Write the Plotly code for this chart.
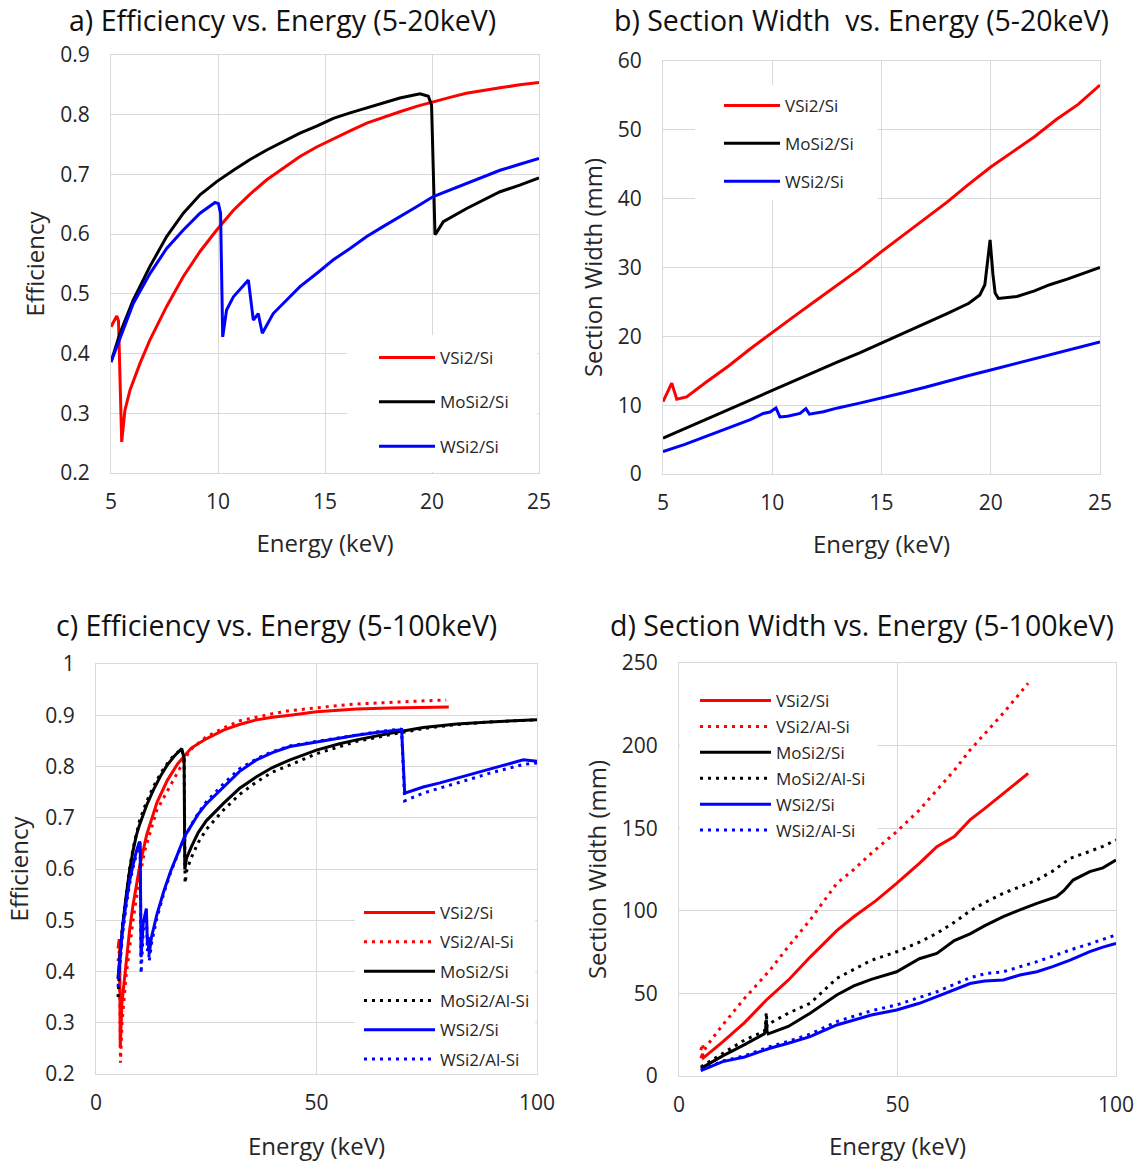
import plotly.graph_objects as go

# ---------------- a) Efficiency vs. Energy (5-25 keV) ----------------
a_vsi_E = [5.0, 5.27, 5.35, 5.5, 5.65, 5.89, 6.36, 6.82, 7.6, 8.38, 9.16, 9.94, 10.72, 11.5, 12.28,
           13.05, 13.83, 14.61, 15.39, 16.17, 16.95, 17.73, 18.5, 19.28, 20.06, 20.84, 21.6, 22.4,
           23.18, 24.1, 25.0]
a_vsi_eff = [0.445, 0.463, 0.455, 0.252, 0.305, 0.339, 0.384, 0.423, 0.479, 0.529, 0.571, 0.607,
             0.640, 0.667, 0.691, 0.711, 0.730, 0.746, 0.760, 0.773, 0.786, 0.796, 0.805, 0.814,
             0.822, 0.829, 0.836, 0.841, 0.845, 0.850, 0.854]

a_mosi_E = [5.0, 5.42, 6.04, 6.82, 7.6, 8.38, 9.16, 9.94, 10.72, 11.5, 12.28, 13.05, 13.83, 14.61,
            15.39, 16.17, 16.95, 17.73, 18.5, 19.44, 19.83, 19.98, 20.14, 20.22, 20.53, 21.62, 22.4,
            23.18, 24.1, 25.0]
a_mosi_eff = [0.386, 0.434, 0.490, 0.546, 0.596, 0.635, 0.666, 0.688, 0.707, 0.725, 0.741, 0.755,
              0.769, 0.781, 0.794, 0.803, 0.811, 0.820, 0.828, 0.835, 0.831, 0.816, 0.599, 0.603,
              0.621, 0.643, 0.657, 0.671, 0.682, 0.694]

a_wsi_E = [5.0, 6.04, 6.82, 7.6, 8.38, 9.16, 9.86, 10.02, 10.12, 10.22, 10.4, 10.72, 11.42, 11.65,
           11.88, 12.07, 12.58, 13.21, 13.83, 14.61, 15.39, 16.17, 16.95, 17.73, 18.5, 19.28, 20.06,
           20.84, 21.6, 22.4, 23.18, 24.1, 25.0]
a_wsi_eff = [0.386, 0.484, 0.534, 0.576, 0.607, 0.635, 0.653, 0.651, 0.635, 0.428, 0.473, 0.495,
             0.523, 0.456, 0.467, 0.434, 0.467, 0.490, 0.512, 0.534, 0.557, 0.576, 0.596, 0.613,
             0.629, 0.646, 0.663, 0.674, 0.685, 0.697, 0.707, 0.717, 0.727]

# ---------------- b) Section width vs. Energy (5-25 keV) ----------------
b_vsi_E = [5.0, 5.4, 5.63, 6.08, 7, 8, 9, 10, 11, 12, 13, 14, 15, 16, 17, 18, 19, 20, 21, 22, 23, 24, 25]
b_vsi_w = [10.5, 13.2, 10.85, 11.2, 13.4, 15.7, 18.2, 20.6, 22.9, 25.2, 27.5, 29.8, 32.3, 34.7, 37.1,
           39.5, 42.1, 44.6, 46.8, 49.0, 51.5, 53.7, 56.5]

b_mosi_E = [5.0, 6, 7, 8, 9, 10, 11, 12, 13, 14, 15, 16, 17, 18, 19, 19.5, 19.73, 19.85, 19.97, 20.1,
            20.2, 20.35, 21.2, 22, 22.7, 23.5, 24.3, 25]
b_mosi_w = [5.2, 6.6, 8.0, 9.4, 10.8, 12.2, 13.6, 14.9, 16.3, 17.6, 19.0, 20.4, 21.9, 23.3, 24.8,
            26.0, 27.5, 30.5, 34.0, 29.0, 26.3, 25.5, 25.8, 26.6, 27.5, 28.3, 29.2, 30.0]

b_wsi_E = [5.0, 6, 7, 8, 9, 9.59, 9.9, 10.17, 10.35, 10.7, 11.27, 11.54, 11.7, 12.34, 13, 14, 15, 16,
           17, 18, 19, 20, 21, 22, 23, 24, 25]
b_wsi_w = [3.24, 4.3, 5.5, 6.7, 7.9, 8.8, 9.0, 9.6, 8.3, 8.4, 8.8, 9.5, 8.7, 9.05, 9.6, 10.3, 11.0,
           11.8, 12.6, 13.5, 14.3, 15.1, 15.9, 16.7, 17.5, 18.4, 19.2]

# ---------------- c) Efficiency vs. Energy (5-100 keV) ----------------
c_vsi_E = [5.0, 5.27, 5.35, 5.5, 5.89, 6.82, 7.6, 8.38, 9.94, 11.5, 13.83, 16.17, 18.5, 21.6, 25,
           28.9, 32.5, 36.4, 40, 44, 50, 55, 59.1, 66.7, 73, 80]
c_vsi_eff = [0.445, 0.463, 0.455, 0.252, 0.339, 0.423, 0.479, 0.529, 0.607, 0.667, 0.730, 0.773,
             0.805, 0.836, 0.854, 0.871, 0.882, 0.891, 0.896, 0.900, 0.907, 0.910, 0.912, 0.914,
             0.915, 0.916]

c_vsial_E = [5.0, 5.27, 5.35, 5.55, 5.9, 6.8, 7.6, 8.4, 9.9, 11.1, 13.8, 17.1, 21.3, 25, 28.9, 32.5,
             36.4, 40, 44, 50, 55, 59.1, 66.7, 73, 79.4]
c_vsial_eff = [0.42, 0.44, 0.43, 0.222, 0.30, 0.39, 0.445, 0.50, 0.585, 0.637, 0.715, 0.767, 0.832,
               0.858, 0.875, 0.889, 0.897, 0.903, 0.909, 0.915, 0.919, 0.922, 0.925, 0.928, 0.930]

c_mosi_E = [5.0, 5.42, 6.04, 6.82, 7.6, 8.38, 9.16, 9.94, 11.5, 13.05, 14.61, 16.17, 17.73, 19.44,
            19.98, 20.14, 20.53, 21.62, 23.18, 25, 28.9, 32.5, 36.4, 40, 44, 50, 55, 59.1, 66.7,
            74.2, 81.8, 89.3, 100]
c_mosi_eff = [0.386, 0.434, 0.490, 0.546, 0.596, 0.635, 0.666, 0.688, 0.725, 0.755, 0.781, 0.803,
              0.820, 0.835, 0.816, 0.599, 0.621, 0.643, 0.671, 0.694, 0.728, 0.757, 0.780, 0.798,
              0.813, 0.832, 0.844, 0.852, 0.865, 0.876, 0.883, 0.887, 0.891]

c_mosial_E = [5.0, 5.4, 6.0, 6.8, 7.6, 8.4, 9.2, 9.9, 11.5, 13.05, 14.6, 16.2, 17.7, 19.4, 19.98,
              20.2, 20.6, 21.6, 23.2, 25, 28.9, 32.5, 36.4, 40, 44, 50, 55, 59.1, 66.7, 74.2, 81.8,
              89.3, 100]
c_mosial_eff = [0.35, 0.42, 0.49, 0.55, 0.60, 0.64, 0.672, 0.695, 0.732, 0.761, 0.786, 0.806, 0.822,
                0.834, 0.815, 0.572, 0.598, 0.622, 0.652, 0.677, 0.715, 0.745, 0.770, 0.789, 0.803,
                0.825, 0.838, 0.849, 0.862, 0.874, 0.882, 0.887, 0.891]

c_wsi_E = [5.0, 6.04, 6.82, 7.6, 8.38, 9.16, 9.86, 10.02, 10.22, 10.72, 11.42, 11.65, 11.88, 12.07,
           12.58, 13.83, 15.39, 16.95, 18.5, 20.06, 21.6, 23.18, 25, 28.9, 32.5, 36.4, 40, 44, 50,
           55, 59.1, 64, 69.0, 69.3, 70.0, 74.2, 78, 81.8, 85.5, 89.3, 93, 96.9, 100]
c_wsi_eff = [0.386, 0.484, 0.534, 0.576, 0.607, 0.635, 0.653, 0.651, 0.428, 0.495, 0.523, 0.456,
             0.467, 0.434, 0.467, 0.512, 0.557, 0.596, 0.629, 0.663, 0.685, 0.707, 0.727, 0.760,
             0.790, 0.813, 0.827, 0.839, 0.848, 0.855, 0.861, 0.867, 0.873, 0.872, 0.748, 0.760,
             0.768, 0.777, 0.786, 0.796, 0.804, 0.813, 0.810]

c_wsial_E = [5.0, 6.0, 6.8, 7.6, 8.4, 9.2, 9.86, 10.02, 10.22, 10.72, 11.42, 11.65, 11.88, 12.07,
             12.58, 13.83, 15.39, 16.95, 18.5, 20.06, 21.6, 23.18, 25, 28.9, 32.5, 36.4, 40, 44, 50,
             55, 59.1, 64, 69.0, 69.3, 70.0, 74.2, 78, 81.8, 85.5, 89.3, 93, 96.9, 100]
c_wsial_eff = [0.37, 0.47, 0.525, 0.57, 0.603, 0.632, 0.651, 0.648, 0.396, 0.48, 0.515, 0.44, 0.452,
               0.42, 0.455, 0.505, 0.553, 0.594, 0.628, 0.661, 0.686, 0.709, 0.731, 0.766, 0.795,
               0.815, 0.829, 0.840, 0.849, 0.856, 0.862, 0.868, 0.873, 0.872, 0.733, 0.748, 0.758,
               0.767, 0.777, 0.787, 0.796, 0.804, 0.807]

# ---------------- d) Section width vs. Energy (5-100 keV) ----------------
d_vsi_E = [5, 5.4, 5.6, 7, 10, 15, 20, 25, 30, 36.1, 40, 45, 49.8, 55, 59, 63, 66.6, 70, 74.2, 77, 79.9]
d_vsi_w = [10.7, 13.5, 11.0, 14.0, 20.6, 32.3, 46, 58, 72, 88, 96.4, 106, 116.6, 128.7, 138.8, 145,
           155, 162, 171.1, 177, 183.2]

d_vsial_E = [5, 5.4, 5.6, 7, 10, 15, 20.8, 25, 30, 36.1, 40, 44, 49.8, 55, 59, 63, 66.6, 70, 74.2, 79.9]
d_vsial_w = [15.7, 19.5, 15.0, 20.5, 30.9, 47, 64, 78.3, 94.4, 116.6, 125, 134.8, 147.9, 161, 173.1,
             185, 197.3, 207, 219.6, 237.7]

d_mosi_E = [5, 10, 15, 19.5, 19.8, 19.97, 20.15, 20.4, 25, 30, 36.1, 40, 44, 49.8, 55, 59, 63, 66.6,
            70, 74.2, 78, 81.9, 86.4, 88, 90.2, 94, 97, 100]
d_mosi_w = [4.6, 12.2, 19.0, 25.5, 28, 34, 27, 25.5, 30.0, 38, 49, 54.5, 58.5, 63.1, 71, 74.2, 82, 86,
            91, 96.5, 100.5, 104.5, 108.5, 112, 118.6, 123.7, 126, 130.7]

d_mosial_E = [5, 10, 15, 19.5, 19.8, 19.97, 20.15, 20.8, 25, 30, 36.1, 40, 44, 49.8, 55, 59, 63, 66.6,
              70, 74.2, 78, 81.9, 85.5, 89.5, 94, 97, 100]
d_mosial_w = [5.5, 13.5, 21.8, 27, 30, 38.5, 30, 31.9, 38, 44, 59.1, 64.5, 70, 75.2, 81, 86.4, 93, 100,
              105, 110.6, 114.5, 118.6, 124, 131.8, 136, 139, 142.9]

d_wsi_E = [5, 10, 15, 20.8, 25, 30, 36.1, 40, 44, 49.8, 55, 59, 63, 66.6, 68.9, 70, 74.2, 78, 81.9,
           85.5, 89.5, 94, 97, 100]
d_wsi_w = [3.2, 8.7, 11.5, 16.8, 19.8, 23.8, 30.9, 33.9, 36.9, 40, 44, 48, 52, 56, 57.1, 57.5, 58.1,
           61.1, 63.1, 66.2, 70.2, 75.3, 78, 80.3]

d_wsial_E = [5, 10, 15, 20.8, 25, 30, 36.1, 40, 44, 49.8, 55, 59, 63, 66.6, 68.9, 70, 74.2, 78, 81.9,
             85.5, 89.5, 94, 97, 100]
d_wsial_w = [3.5, 9, 12.3, 17.8, 21, 25.3, 32.9, 36, 39.5, 43, 47.5, 51, 55.5, 59.5, 61.1, 62, 63.1,
             66, 69.2, 72.5, 76.3, 80, 82.5, 85.4]

RED, BLACK, BLUE = "#FF0000", "#000000", "#0000FF"
DOT = "3px,5px"
FONT = "'Open Sans', Lato, sans-serif"
TXT = "#262626"
GRID = "#D9D9D9"

fig = go.Figure()


def add(x, y, name, color, dash, ax, legend):
    n = "" if ax == 1 else str(ax)
    fig.add_trace(go.Scatter(
        x=x, y=y, name=name, mode="lines",
        line=dict(color=color, width=3, dash=dash),
        xaxis="x" + n, yaxis="y" + n,
        legend=legend, legendgroup=legend + name,
    ))


add(a_vsi_E, a_vsi_eff, "VSi2/Si", RED, "solid", 1, "legend")
add(a_mosi_E, a_mosi_eff, "MoSi2/Si", BLACK, "solid", 1, "legend")
add(a_wsi_E, a_wsi_eff, "WSi2/Si", BLUE, "solid", 1, "legend")

add(b_vsi_E, b_vsi_w, "VSi2/Si", RED, "solid", 2, "legend2")
add(b_mosi_E, b_mosi_w, "MoSi2/Si", BLACK, "solid", 2, "legend2")
add(b_wsi_E, b_wsi_w, "WSi2/Si", BLUE, "solid", 2, "legend2")

add(c_vsi_E, c_vsi_eff, "VSi2/Si", RED, "solid", 3, "legend3")
add(c_vsial_E, c_vsial_eff, "VSi2/Al-Si", RED, DOT, 3, "legend3")
add(c_mosi_E, c_mosi_eff, "MoSi2/Si", BLACK, "solid", 3, "legend3")
add(c_mosial_E, c_mosial_eff, "MoSi2/Al-Si", BLACK, DOT, 3, "legend3")
add(c_wsi_E, c_wsi_eff, "WSi2/Si", BLUE, "solid", 3, "legend3")
add(c_wsial_E, c_wsial_eff, "WSi2/Al-Si", BLUE, DOT, 3, "legend3")

add(d_vsi_E, d_vsi_w, "VSi2/Si", RED, "solid", 4, "legend4")
add(d_vsial_E, d_vsial_w, "VSi2/Al-Si", RED, DOT, 4, "legend4")
add(d_mosi_E, d_mosi_w, "MoSi2/Si", BLACK, "solid", 4, "legend4")
add(d_mosial_E, d_mosial_w, "MoSi2/Al-Si", BLACK, DOT, 4, "legend4")
add(d_wsi_E, d_wsi_w, "WSi2/Si", BLUE, "solid", 4, "legend4")
add(d_wsial_E, d_wsial_w, "WSi2/Al-Si", BLUE, DOT, 4, "legend4")

W, H = 1138, 1162


def px_x(p):
    return p / W


def px_y(p):
    return 1 - p / H


def xax(dom, rng, dtick, anchor, title, standoff):
    return dict(domain=dom, range=rng, dtick=dtick, tick0=0, anchor=anchor, automargin=False,
                showgrid=True, gridcolor=GRID, gridwidth=1, zeroline=False, showline=True,
                mirror=True, linecolor=GRID, linewidth=1, ticks="outside", ticklen=10,
                tickcolor="rgba(0,0,0,0)", tickfont=dict(family=FONT, size=21, color=TXT),
                title=dict(text=title, standoff=standoff, font=dict(family=FONT, size=24, color=TXT)))


def yax(dom, rng, dtick, anchor, title, standoff, fmt=None):
    d = dict(domain=dom, range=rng, dtick=dtick, tick0=0, anchor=anchor, automargin=False,
             showgrid=True, gridcolor=GRID, gridwidth=1, zeroline=False, showline=True,
             mirror=True, linecolor=GRID, linewidth=1, ticks="outside", ticklen=16,
             tickcolor="rgba(0,0,0,0)", tickfont=dict(family=FONT, size=21, color=TXT),
             title=dict(text=title, standoff=standoff, font=dict(family=FONT, size=24, color=TXT)))
    if fmt:
        d["tickformat"] = fmt
    return d


fig.update_layout(
    width=W, height=H, margin=dict(l=0, r=0, t=0, b=0, autoexpand=False),
    paper_bgcolor="white", plot_bgcolor="white",
    showlegend=True,
    xaxis=xax([px_x(111), px_x(539)], [5, 25], 5, "y", "Energy (keV)", 20),
    yaxis=yax([px_y(473), px_y(55)], [0.2, 0.9], 0.1, "x", "Efficiency", 8, ".1f"),
    xaxis2=xax([px_x(663), px_x(1100)], [5, 25], 5, "y2", "Energy (keV)", 20),
    yaxis2=yax([px_y(474), px_y(61)], [0, 60], 10, "x2", "Section Width (mm)", 8),
    xaxis3=xax([px_x(96), px_x(537)], [0, 100], 50, "y3", "Energy (keV)", 22),
    yaxis3=yax([px_y(1074), px_y(664)], [0.2, 1.0], 0.1, "x3", "Efficiency", 9),
    xaxis4=xax([px_x(679), px_x(1116)], [0, 100], 50, "y4", "Energy (keV)", 20),
    yaxis4=yax([px_y(1076), px_y(663)], [0, 250], 50, "x4", "Section Width (mm)", 8),
)

leg_common = dict(bgcolor="rgba(255,255,255,0)", borderwidth=0,
                  font=dict(family=FONT, size=17, color=TXT),
                  itemwidth=56, itemclick=False, itemdoubleclick=False,
                  xanchor="left", yanchor="top")
fig.update_layout(
    legend=dict(leg_common, x=px_x(374), y=px_y(340), tracegroupgap=19.2),
    legend2=dict(leg_common, x=px_x(719), y=px_y(88), tracegroupgap=12.7),
    legend3=dict(leg_common, x=px_x(359), y=px_y(895), tracegroupgap=4.2, itemwidth=71),
    legend4=dict(leg_common, x=px_x(695), y=px_y(683), tracegroupgap=0.8, itemwidth=71),
)

# White legend panels that mask the gridlines behind each legend (in empty plot regions)
legend_panels = [
    ("x", "y", 0.552, 0.996, 0.003, 0.330),
    ("x2", "y2", 0.073, 0.492, 0.663, 0.942),
    ("x3", "y3", 0.587, 0.996, 0.003, 0.473),
    ("x4", "y4", 0.003, 0.455, 0.559, 0.959),
]
for xr, yr, x0, x1, y0, y1 in legend_panels:
    fig.add_shape(type="rect", xref=xr + " domain", yref=yr + " domain",
                  x0=x0, x1=x1, y0=y0, y1=y1, layer="above",
                  fillcolor="white", line=dict(width=0))

titles = [
    ("a) Efficiency vs. Energy (5-20keV)", 282, 20),
    ("b) Section Width  vs. Energy (5-20keV)", 861, 20),
    ("c) Efficiency vs. Energy (5-100keV)", 276, 625),
    ("d) Section Width vs. Energy (5-100keV)", 862, 625),
]
for text, cx, cy in titles:
    fig.add_annotation(text=text, x=px_x(cx), y=px_y(cy), xref="paper", yref="paper",
                       showarrow=False, xanchor="center", yanchor="middle",
                       font=dict(family=FONT, size=28.5, color="#111111"))

fig.write_html("out.html")
